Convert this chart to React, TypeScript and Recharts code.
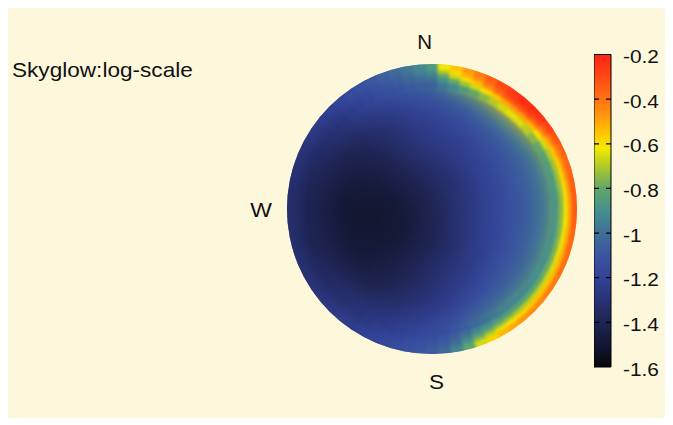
import { PieChart, Pie, Cell, BarChart, Bar, XAxis, YAxis, ReferenceLine } from "recharts";

// azimuth bins, degrees clockwise from north, centred on the value
const azimuths10 = [
  0, 10, 20, 30, 40, 50, 60, 70, 80, 90, 100, 110, 120, 130, 140, 150, 160, 170,
  180, 190, 200, 210, 220, 230, 240, 250, 260, 270, 280, 290, 300, 310, 320, 330, 340, 350,
];
const azimuths5 = [
  0, 5, 10, 15, 20, 25, 30, 35, 40, 45, 50, 55, 60, 65, 70, 75, 80, 85,
  90, 95, 100, 105, 110, 115, 120, 125, 130, 135, 140, 145, 150, 155, 160, 165, 170, 175,
  180, 185, 190, 195, 200, 205, 210, 215, 220, 225, 230, 235, 240, 245, 250, 255, 260, 265,
  270, 275, 280, 285, 290, 295, 300, 305, 310, 315, 320, 325, 330, 335, 340, 345, 350, 355,
];

// log10 skyglow per azimuth bin, one list per ring (zenith -> horizon)
// inner rings: 10° bins
const ring1 = [
  -1.4, -1.39, -1.38, -1.38, -1.37, -1.37, -1.36, -1.36, -1.36, -1.36, -1.36, -1.37,
  -1.37, -1.38, -1.38, -1.39, -1.4, -1.41, -1.41, -1.42, -1.43, -1.43, -1.44, -1.44,
  -1.45, -1.45, -1.45, -1.45, -1.45, -1.44, -1.44, -1.43, -1.43, -1.42, -1.41, -1.41,
];
const ring2 = [
  -1.34, -1.33, -1.32, -1.31, -1.3, -1.29, -1.28, -1.28, -1.27, -1.27, -1.27, -1.28,
  -1.29, -1.3, -1.32, -1.34, -1.36, -1.37, -1.39, -1.41, -1.43, -1.45, -1.47, -1.48,
  -1.49, -1.5, -1.5, -1.5, -1.49, -1.48, -1.46, -1.44, -1.42, -1.4, -1.38, -1.36,
];
const ring3 = [
  -1.27, -1.26, -1.25, -1.23, -1.22, -1.21, -1.2, -1.2, -1.19, -1.19, -1.19, -1.2,
  -1.21, -1.23, -1.25, -1.27, -1.29, -1.31, -1.34, -1.37, -1.4, -1.43, -1.46, -1.48,
  -1.5, -1.51, -1.51, -1.51, -1.5, -1.48, -1.46, -1.43, -1.4, -1.36, -1.32, -1.29,
];
const ring4 = [
  -1.22, -1.2, -1.18, -1.16, -1.14, -1.13, -1.12, -1.11, -1.11, -1.11, -1.11, -1.12,
  -1.13, -1.14, -1.17, -1.2, -1.23, -1.26, -1.29, -1.33, -1.37, -1.41, -1.44, -1.47,
  -1.49, -1.5, -1.5, -1.5, -1.49, -1.47, -1.44, -1.41, -1.37, -1.33, -1.29, -1.25,
];
const ring5 = [
  -1.16, -1.13, -1.1, -1.07, -1.05, -1.04, -1.04, -1.04, -1.04, -1.04, -1.04, -1.05,
  -1.06, -1.07, -1.08, -1.11, -1.15, -1.2, -1.24, -1.28, -1.32, -1.36, -1.39, -1.42,
  -1.44, -1.45, -1.46, -1.46, -1.45, -1.43, -1.41, -1.38, -1.33, -1.28, -1.24, -1.2,
];
const ring6 = [
  -1.1, -1.05, -1.0, -0.95, -0.93, -0.94, -0.96, -0.96, -0.96, -0.96, -0.96, -0.97,
  -0.98, -0.99, -1.0, -1.03, -1.08, -1.14, -1.19, -1.23, -1.27, -1.3, -1.33, -1.36,
  -1.39, -1.41, -1.42, -1.42, -1.41, -1.39, -1.36, -1.32, -1.27, -1.22, -1.17, -1.13,
];
// outer rings: 5° bins
const ring7 = [
  -1.05, -0.98, -0.92, -0.86, -0.8, -0.75, -0.7, -0.66, -0.64, -0.65, -0.69, -0.75,
  -0.8, -0.83, -0.85, -0.86, -0.87, -0.88, -0.88, -0.88, -0.88, -0.89, -0.89, -0.9,
  -0.9, -0.91, -0.92, -0.93, -0.94, -0.95, -0.97, -1.0, -1.03, -1.07, -1.11, -1.14,
  -1.16, -1.18, -1.2, -1.22, -1.24, -1.26, -1.28, -1.3, -1.31, -1.33, -1.34, -1.36,
  -1.37, -1.38, -1.39, -1.4, -1.4, -1.4, -1.4, -1.4, -1.39, -1.38, -1.37, -1.36,
  -1.34, -1.32, -1.3, -1.28, -1.25, -1.22, -1.19, -1.16, -1.13, -1.11, -1.09, -1.07,
];
const ring8 = [
  -1.0, -0.9, -0.8, -0.72, -0.66, -0.6, -0.55, -0.5, -0.48, -0.49, -0.53, -0.6,
  -0.66, -0.7, -0.72, -0.73, -0.74, -0.75, -0.75, -0.75, -0.76, -0.76, -0.77, -0.78,
  -0.79, -0.8, -0.81, -0.82, -0.83, -0.85, -0.87, -0.9, -0.94, -1.0, -1.06, -1.1,
  -1.13, -1.15, -1.17, -1.2, -1.22, -1.24, -1.26, -1.28, -1.29, -1.31, -1.32, -1.34,
  -1.35, -1.36, -1.37, -1.38, -1.38, -1.38, -1.38, -1.38, -1.37, -1.36, -1.35, -1.34,
  -1.32, -1.3, -1.28, -1.26, -1.23, -1.2, -1.17, -1.14, -1.11, -1.08, -1.05, -1.02,
];
const ring9 = [
  -0.95, -0.8, -0.68, -0.6, -0.54, -0.46, -0.4, -0.35, -0.33, -0.34, -0.38, -0.45,
  -0.52, -0.56, -0.58, -0.59, -0.6, -0.61, -0.62, -0.62, -0.63, -0.63, -0.64, -0.65,
  -0.66, -0.67, -0.68, -0.69, -0.71, -0.73, -0.76, -0.8, -0.86, -0.95, -1.03, -1.08,
  -1.11, -1.13, -1.15, -1.18, -1.2, -1.22, -1.24, -1.26, -1.27, -1.29, -1.3, -1.32,
  -1.33, -1.34, -1.35, -1.36, -1.36, -1.36, -1.36, -1.36, -1.35, -1.34, -1.33, -1.32,
  -1.3, -1.28, -1.26, -1.24, -1.21, -1.18, -1.15, -1.12, -1.09, -1.06, -1.02, -0.98,
];
const ring10 = [
  -0.9, -0.7, -0.6, -0.52, -0.46, -0.39, -0.33, -0.28, -0.26, -0.26, -0.29, -0.34,
  -0.4, -0.44, -0.46, -0.47, -0.48, -0.49, -0.49, -0.5, -0.5, -0.51, -0.52, -0.53,
  -0.54, -0.55, -0.56, -0.57, -0.59, -0.61, -0.64, -0.69, -0.76, -0.88, -0.98, -1.05,
  -1.09, -1.11, -1.13, -1.16, -1.18, -1.2, -1.22, -1.24, -1.25, -1.27, -1.28, -1.3,
  -1.31, -1.32, -1.33, -1.34, -1.34, -1.34, -1.34, -1.34, -1.33, -1.32, -1.31, -1.3,
  -1.28, -1.26, -1.24, -1.22, -1.19, -1.16, -1.13, -1.1, -1.07, -1.03, -0.99, -0.94,
];
const ring11 = [
  -0.85, -0.62, -0.55, -0.48, -0.42, -0.35, -0.3, -0.26, -0.23, -0.23, -0.25, -0.28,
  -0.33, -0.36, -0.37, -0.36, -0.35, -0.34, -0.34, -0.35, -0.36, -0.37, -0.38, -0.39,
  -0.41, -0.42, -0.44, -0.45, -0.47, -0.5, -0.53, -0.58, -0.66, -0.8, -0.93, -1.02,
  -1.07, -1.1, -1.12, -1.15, -1.17, -1.19, -1.21, -1.23, -1.24, -1.26, -1.27, -1.29,
  -1.3, -1.31, -1.32, -1.33, -1.33, -1.33, -1.33, -1.33, -1.32, -1.31, -1.3, -1.29,
  -1.27, -1.25, -1.23, -1.21, -1.18, -1.15, -1.12, -1.09, -1.05, -1.01, -0.97, -0.92,
];

const rings = [ring1, ring2, ring3, ring4, ring5, ring6, ring7, ring8, ring9, ring10, ring11];

const colorTicks = [-0.2, -0.4, -0.6, -0.8, -1, -1.2, -1.4, -1.6];

// layout
const BG = "#fdf8dc";
const W = 665;
const H = 410;
const CX = 424;
const CY = 201;
const R = 145;
// ring edges in px; the last ring runs past the rim and is clipped off
const RING_EDGES = [0, 25, 50, 75, 95, 110, 120, 127, 132, 136, 140, 152];
const FONT = "'Liberation Sans', Arial, Helvetica, sans-serif";

// colormap (value -> colour)
const CMAP: [number, string][] = [
  [-1.6, "#07070d"],
  [-1.5, "#131733"],
  [-1.4, "#1d2453"],
  [-1.3, "#283275"],
  [-1.2, "#324296"],
  [-1.1, "#3a55a0"],
  [-1.0, "#3f6f96"],
  [-0.9, "#45908e"],
  [-0.8, "#62a66a"],
  [-0.7, "#b0ca28"],
  [-0.62, "#f4ea00"],
  [-0.55, "#ffc400"],
  [-0.48, "#ff9a0e"],
  [-0.4, "#ff7412"],
  [-0.3, "#ff4814"],
  [-0.2, "#ff2214"],
];

const hexToRgb = (h: string) => [1, 3, 5].map((i) => parseInt(h.slice(i, i + 2), 16));

function colorFor(v: number) {
  if (v <= CMAP[0][0]) return CMAP[0][1];
  for (let i = 1; i < CMAP.length; i++) {
    const [v1, c1] = CMAP[i];
    if (v <= v1) {
      const [v0, c0] = CMAP[i - 1];
      const t = (v - v0) / (v1 - v0);
      const a = hexToRgb(c0);
      const b = hexToRgb(c1);
      const m = a.map((x, k) => Math.round(x + (b[k] - x) * t));
      return `rgb(${m[0]},${m[1]},${m[2]})`;
    }
  }
  return CMAP[CMAP.length - 1][1];
}

const colorbarData = [{ name: "cb", range: [-1.6, -0.2] }];

function ColorTick(props: any) {
  const { x, y, payload } = props;
  return (
    <text
      x={x}
      y={y + 2}
      dy="0.36em"
      textAnchor="start"
      fontSize={18.6}
      fontFamily={FONT}
      fill="#111"
      transform={`translate(${x} 0) scale(1.12 1) translate(${-x} 0)`}
    >
      {String(payload.value)}
    </text>
  );
}

// draws rings[from..] as coloured polar cells
function SkyDisk({ from }: { from: number }) {
  return (
    <PieChart width={W} height={H} margin={{ top: 0, right: 0, bottom: 0, left: 0 }}>
      {rings.map((ring, r) => {
        if (r < from) return null;
        const az = ring.length === 72 ? azimuths5 : azimuths10;
        const half = 180 / ring.length;
        return (
          <Pie
            key={r}
            data={ring.map((v, i) => ({ az: az[i], v, w: 1 }))}
            dataKey="w"
            nameKey="az"
            cx={CX}
            cy={CY}
            innerRadius={RING_EDGES[r]}
            outerRadius={RING_EDGES[r + 1]}
            startAngle={90 + half}
            endAngle={90 + half - 360}
            paddingAngle={0}
            stroke="none"
            label={false}
            labelLine={false}
            isAnimationActive={false}
          >
            {ring.map((v, i) => (
              <Cell key={i} fill={colorFor(v)} stroke={colorFor(v)} strokeWidth={0.8} />
            ))}
          </Pie>
        );
      })}
    </PieChart>
  );
}

function ColorBar() {
  return (
    <BarChart
      width={79}
      height={H}
      data={colorbarData}
      margin={{ top: 46.5, right: 0, bottom: 51, left: 0 }}
      barCategoryGap={0}
      barGap={0}
    >
      <defs>
        <linearGradient id="cbGrad" x1="0" y1="0" x2="0" y2="1">
          {CMAP.slice()
            .reverse()
            .map(([v, c]) => (
              <stop key={v} offset={`${((-0.2 - v) / 1.4) * 100}%`} stopColor={c} />
            ))}
        </linearGradient>
      </defs>
      <XAxis dataKey="name" hide />
      <YAxis
        orientation="right"
        type="number"
        domain={[-1.6, -0.2]}
        ticks={colorTicks}
        interval={0}
        width={62}
        axisLine={false}
        tickLine={false}
        tickSize={0}
        tickMargin={12}
        tick={<ColorTick />}
      />
      <Bar dataKey="range" fill="url(#cbGrad)" stroke="#000" strokeWidth={1} isAnimationActive={false} />
      {colorTicks.slice(1, -1).map((t) => (
        <ReferenceLine key={t} y={t} stroke="#000" strokeWidth={1.3} strokeDasharray="5 7 5" />
      ))}
    </BarChart>
  );
}

const layer = (blur: number) => ({
  position: "absolute" as const,
  left: 0,
  top: 0,
  width: W,
  height: H,
  filter: `blur(${blur}px)`,
  clipPath: `circle(${R}px at ${CX}px ${CY}px)`,
});

export default function App() {
  return (
    <div style={{ position: "relative", width: W, height: H, background: BG, overflow: "hidden" }}>
      {/* soft interior */}
      <div style={layer(9)}>
        <SkyDisk from={0} />
      </div>
      {/* sharper horizon band */}
      <div style={layer(1.8)}>
        <SkyDisk from={6} />
      </div>
      <div style={{ position: "absolute", left: 586, top: 0 }}>
        <ColorBar />
      </div>
      <svg
        width={W}
        height={H}
        style={{ position: "absolute", left: 0, top: 0, pointerEvents: "none" }}
        fontFamily={FONT}
        fill="#111"
      >
        <text x={4} y={69.5} fontSize={20} transform="translate(4 0) scale(1.13 1) translate(-4 0)">
          Skyglow:log-scale
        </text>
        <text x={416.7} y={41.3} fontSize={20.5} textAnchor="middle">
          N
        </text>
        <text x={253} y={208.7} fontSize={20.5} textAnchor="middle" transform="translate(253 0) scale(1.12 1) translate(-253 0)">
          W
        </text>
        <text x={428.5} y={381} fontSize={20.5} textAnchor="middle" transform="translate(428.5 0) scale(1.1 1) translate(-428.5 0)">
          S
        </text>
      </svg>
    </div>
  );
}
